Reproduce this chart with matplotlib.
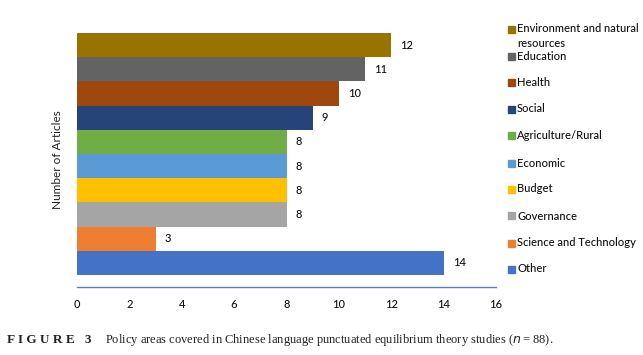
import matplotlib.pyplot as plt
from matplotlib.patches import Rectangle

# policy areas, top to bottom as drawn
categories = ['Environment and natural\nresources', 'Education', 'Health', 'Social',
              'Agriculture/Rural', 'Economic', 'Budget', 'Governance',
              'Science and Technology', 'Other']
counts = [12, 11, 10, 9, 8, 8, 8, 8, 3, 14]
colors = ['#997300', '#636363', '#9E480E', '#264478', '#70AD47',
          '#5B9BD5', '#FFC000', '#A5A5A5', '#ED7D31', '#4472C4']
xticks = [0, 2, 4, 6, 8, 10, 12, 14, 16]

plt.rcParams['font.family'] = ['Lato', 'DejaVu Sans']

fig = plt.figure(figsize=(6.43, 3.55), dpi=100)
ax = fig.add_axes([77 / 643, 1 - 287 / 355, (496 - 77) / 643, (287 - 33) / 355])

n = len(categories)
ypos = [n - 1 - i for i in range(n)]
ax.barh(ypos, counts, height=1.0, color=colors, edgecolor='none')
for y, v in zip(ypos, counts):
    ax.text(v + 0.35, y, str(v), va='center', ha='left', fontsize=8,
            fontweight='medium', color='#111111')

ax.set_xlim(0, 16)
ax.set_ylim(-1.0, n - 0.5)
ax.set_xticks(xticks)
ax.set_xticklabels([str(t) for t in xticks], fontsize=8, fontweight='medium', color='#111111')
ax.set_yticks([])
for s in ['top', 'right', 'left']:
    ax.spines[s].set_visible(False)
ax.spines['bottom'].set_color('#5a7ec4')
ax.spines['bottom'].set_linewidth(1.0)
ax.tick_params(axis='x', length=0, pad=9)
ax.set_ylabel('Number of Articles', fontsize=8.5, color='#222222', labelpad=10)

# legend on the right, drawn by hand to match spacing
leg_y = [29, 56, 82, 109, 136, 163, 189, 216, 243, 269]
for lab, c, yy in zip(categories, colors, leg_y):
    fig.patches.append(Rectangle((508 / 643, 1 - (yy + 3.5) / 355), 7 / 643, 7 / 355,
                                 transform=fig.transFigure, color=c))
    if '\n' in lab:
        fig.text(517 / 643, 1 - (yy - 6.5) / 355, lab, fontsize=8, va='top', ha='left',
                 fontweight='medium', color='#111111', linespacing=1.45)
    else:
        fig.text(517 / 643, 1 - yy / 355, lab, fontsize=8, va='center', ha='left',
                 fontweight='medium', color='#111111')

# caption
fig.text(7 / 643, 1 - 340 / 355, 'F I G U R E   3', fontsize=9.5, fontweight='bold',
         family='Liberation Serif', va='center', ha='left', color='#222222')
fig.text(105 / 643, 1 - 340 / 355,
         'Policy areas covered in Chinese language punctuated equilibrium theory studies ($n$\u2009=\u200988).',
         fontsize=9, family=['Liberation Serif', 'DejaVu Serif'], va='center', ha='left', color='#222222')

fig.savefig('out.png', dpi=100)
